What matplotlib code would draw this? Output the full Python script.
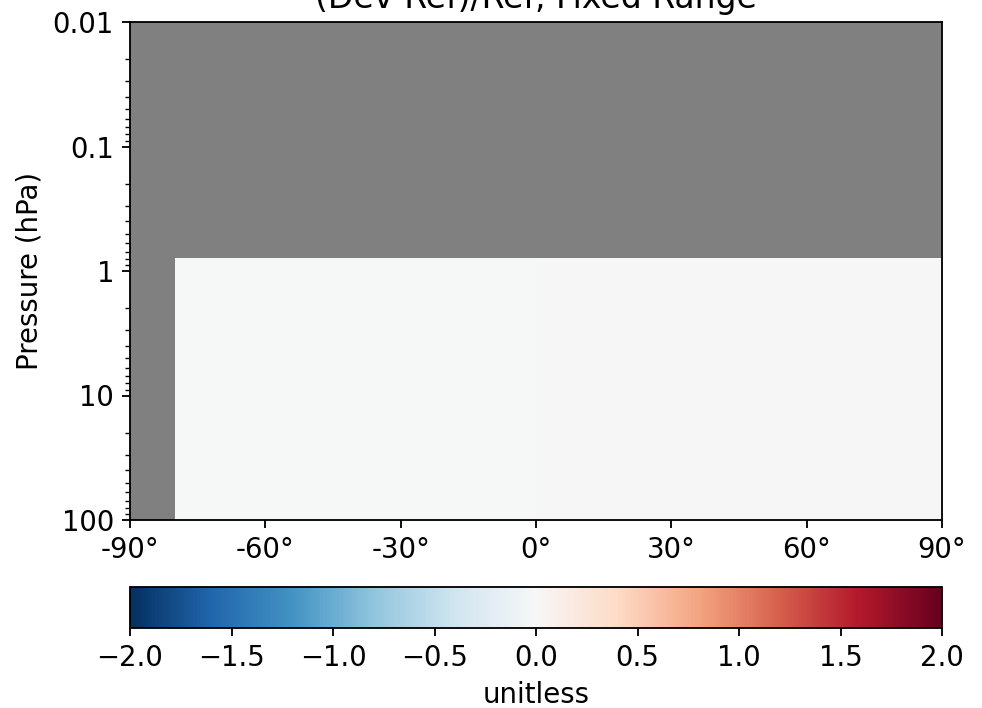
import matplotlib
matplotlib.use("Agg")
import matplotlib.pyplot as plt
import numpy as np
from matplotlib.ticker import FixedLocator, FuncFormatter

# latitude / pressure cell edges (data only exists south of -80 and below ~0.79 hPa)
lat_edges = [-80, -62, -52, -30, 0, 28, 60, 74, 90]
p_edges = [100, 70, 40, 20, 6, 2, 0.79]

# relative difference (Dev-Ref)/Ref, rows follow p_edges, columns follow lat_edges
ratio = [
    [-0.015, -0.012, -0.010, -0.006, 0.002, 0.004, 0.003, 0.004],
    [-0.012, -0.014, -0.011, -0.008, 0.003, 0.004, 0.004, 0.003],
    [-0.010, -0.012, -0.013, -0.009, 0.002, 0.003, 0.004, 0.004],
    [-0.008, -0.010, -0.012, -0.010, 0.001, 0.003, 0.003, 0.005],
    [-0.006, -0.008, -0.011, -0.010, 0.000, 0.002, 0.003, 0.004],
    [-0.004, -0.006, -0.010, -0.009, 0.000, 0.002, 0.003, 0.004],
]

lat_ticks = [-90, -60, -30, 0, 30, 60, 90]
p_ticks = [100, 10, 1, 0.1, 0.01]
cbar_ticks = [-2.0, -1.5, -1.0, -0.5, 0.0, 0.5, 1.0, 1.5, 2.0]

DPI = 165
plt.rcParams['font.size'] = 12
fig = plt.figure(figsize=(982/DPI, 708/DPI), dpi=DPI)
ax = fig.add_axes([130/982, 1-520/708, 812/982, 498/708])
cax = fig.add_axes([130/982, 1-628/708, 812/982, 41/708])

ax.set_facecolor('gray')
mesh = ax.pcolormesh(lat_edges, p_edges, np.array(ratio), cmap='RdBu_r',
                     vmin=-2, vmax=2, shading='flat')
ax.set_yscale('log')
ax.set_xlim(-90, 90)
ax.set_ylim(100, 0.01)
ax.xaxis.set_major_locator(FixedLocator(lat_ticks))
ax.xaxis.set_major_formatter(FuncFormatter(lambda v, pos: '%d°' % v))
ax.yaxis.set_major_locator(FixedLocator(p_ticks))
ax.yaxis.set_major_formatter(FuncFormatter(lambda v, pos: '%g' % v))
ax.set_ylabel('Pressure (hPa)')
ax.set_title('(Dev-Ref)/Ref, Fixed Range')

cb = fig.colorbar(mesh, cax=cax, orientation='horizontal', ticks=cbar_ticks)
cb.set_label('unitless')

fig.savefig('out.png', dpi=DPI)
